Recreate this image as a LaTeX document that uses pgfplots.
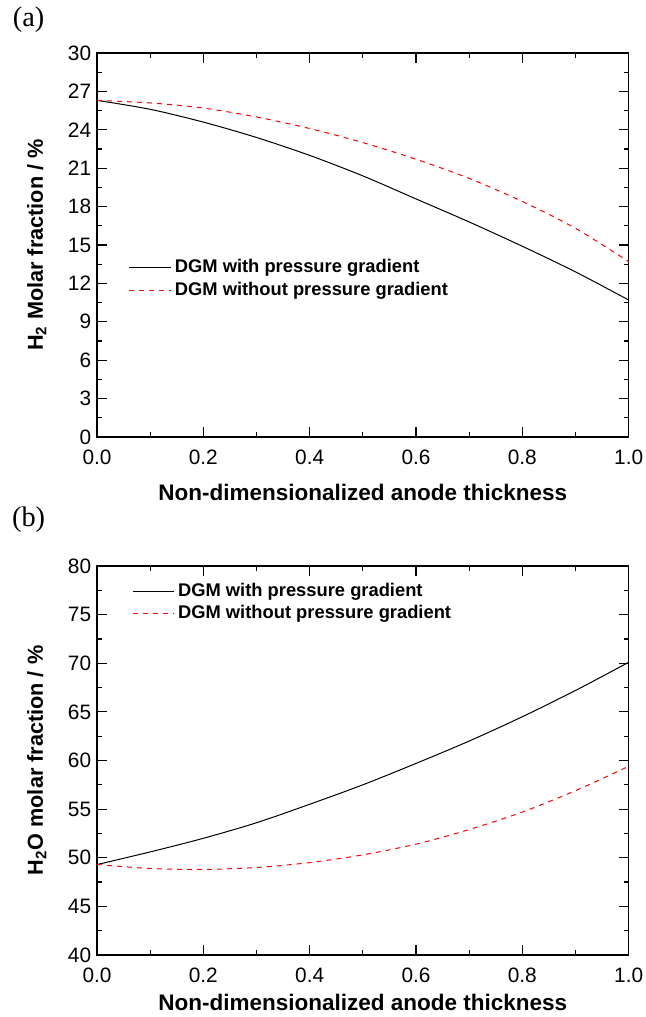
\documentclass[border=0pt]{standalone}
\usepackage{fontspec}
\setmainfont{Liberation Sans}
\newfontfamily\timesfont{Liberation Serif}
\usepackage{pgfplots}
\pgfplotsset{compat=1.18}

\pgfplotsset{
  panel/.style={
    scale only axis,
    width=319pt,
    xmin=0, xmax=1,
    xtick={0,0.2,...,1.0},
    minor x tick num=1,
    minor y tick num=1,
    tick align=inside,
    major tick length=6pt,
    minor tick length=3pt,
    tick style={black, line width=0.7pt},
    axis line style={line width=0.8pt},
    xticklabel style={/pgf/number format/fixed, /pgf/number format/fixed zerofill, /pgf/number format/precision=1, yshift=-4pt},
    /pgf/number format/assume math mode=true,
    tick label style={font=\fontsize{12.5}{14}\selectfont},
    xlabel={Non-dimensionalized anode thickness},
    xlabel style={font=\bfseries\fontsize{13.5}{15}\selectfont},
    ylabel style={font=\bfseries\fontsize{13}{15}\selectfont, xshift=0pt, yshift=6pt},
    legend style={draw=none, fill=none, font=\bfseries\fontsize{11}{13}\selectfont, row sep=0pt, anchor=north west},
    legend cell align=left,
    legend image code/.code={\draw[#1] (0pt,0pt) -- (25pt,0pt);},
  }
}

\begin{document}
\begin{tikzpicture}
\useasboundingbox (-58.2pt,-37.2pt) rectangle (329.4pt,573pt);

% (a) H2
\begin{axis}[panel,
  at={(0,310.8pt)},
  height=230.4pt,
  ymin=0, ymax=30, ytick={0,3,...,30},
  ylabel={H$_{\mathbf{2}}$ Molar fraction / \%},
  xlabel style={yshift=-5pt},
  legend style={at={(0.05,0.48)}},
]
\addplot[black, line width=0.6pt, smooth] coordinates {
  (0,26.3) (0.1,25.6) (0.2,24.6) (0.3,23.4) (0.4,22.0) (0.5,20.4)
  (0.6,18.6) (0.7,16.8) (0.8,14.9) (0.9,12.9) (1.0,10.7)};
\addlegendentry{DGM with pressure gradient}
\addplot[red, dashed, line width=0.6pt, smooth] coordinates {
  (0,26.3) (0.1,26.1) (0.2,25.7) (0.3,25.0) (0.4,24.1) (0.5,23.0)
  (0.6,21.7) (0.7,20.2) (0.8,18.4) (0.9,16.3) (1.0,13.7)};
\addlegendentry{DGM without pressure gradient}
\end{axis}
\node[font=\timesfont\fontsize{17}{20}\selectfont] at (-41pt,561pt) {(a)};

% (b) H2O
\begin{axis}[panel,
  at={(0,0)},
  height=233.4pt,
  ymin=40, ymax=80, ytick={40,45,...,80},
  ylabel={H$_{\mathbf{2}}$O molar fraction / \%},
  legend style={at={(0.056,0.974)}},
]
\addplot[black, line width=0.6pt, smooth] coordinates {
  (0,49.3) (0.1,50.6) (0.2,52.0) (0.3,53.6) (0.4,55.5) (0.5,57.5)
  (0.6,59.7) (0.7,62.0) (0.8,64.5) (0.9,67.2) (1.0,70.1)};
\addlegendentry{DGM with pressure gradient}
\addplot[red, dashed, line width=0.6pt, smooth] coordinates {
  (0,49.3) (0.1,48.9) (0.2,48.8) (0.3,49.0) (0.4,49.5) (0.5,50.3)
  (0.6,51.4) (0.7,52.9) (0.8,54.7) (0.9,56.9) (1.0,59.4)};
\addlegendentry{DGM without pressure gradient}
\end{axis}
\node[font=\timesfont\fontsize{17}{20}\selectfont] at (-41pt,261pt) {(b)};
\end{tikzpicture}
\end{document}
